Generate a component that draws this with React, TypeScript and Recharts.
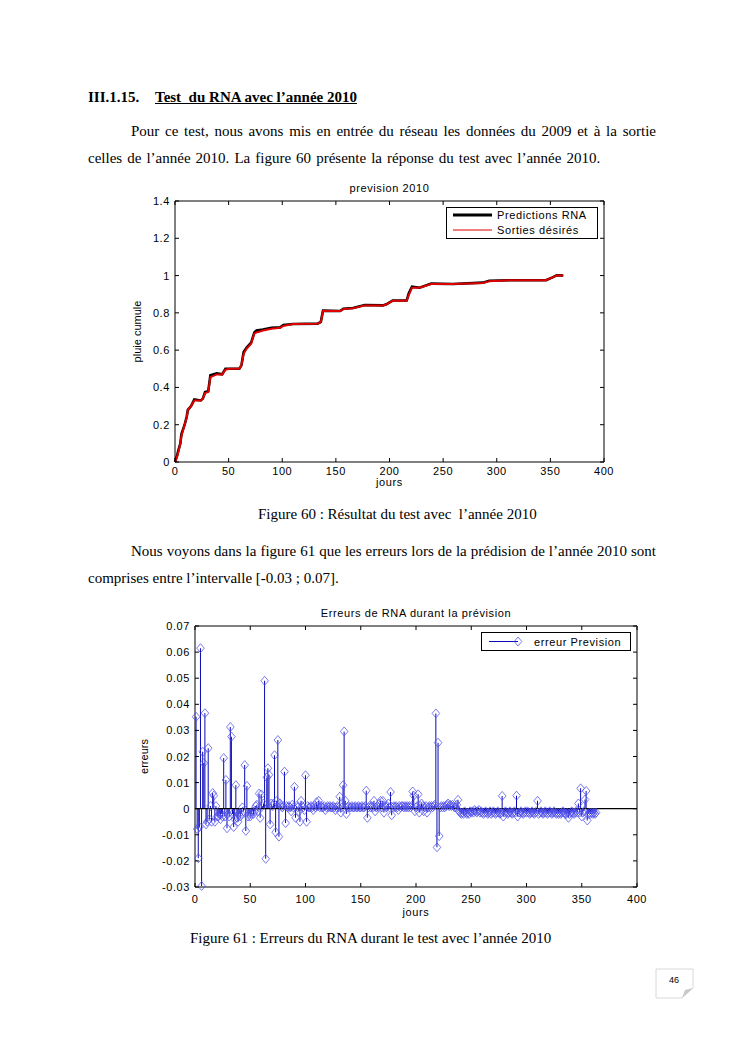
import {
  LineChart,
  ComposedChart,
  Line,
  Bar,
  XAxis,
  YAxis,
  Legend,
  ReferenceLine,
} from "recharts";

// Figure 60: cumulative rainfall (breakpoints)
const rainDays = [
  0, 2, 3, 5, 6, 9, 11, 12, 15, 18, 24, 26, 28, 31, 33, 39, 44, 47, 51, 60,
  62, 64, 67, 71, 74, 76, 82, 90, 98, 101, 110, 133, 136, 138, 154, 157, 166,
  177, 194, 197, 203, 216, 218, 221, 228, 239, 259, 287, 293, 312, 346, 352,
  356, 362,
];
const rainDesired = [
  0, 0.03, 0.05, 0.1, 0.14, 0.2, 0.24, 0.28, 0.3, 0.33, 0.33, 0.34, 0.37,
  0.375, 0.455, 0.47, 0.47, 0.495, 0.5, 0.5, 0.52, 0.58, 0.61, 0.635, 0.69,
  0.695, 0.705, 0.715, 0.72, 0.73, 0.74, 0.742, 0.75, 0.81, 0.81, 0.82, 0.825,
  0.84, 0.84, 0.845, 0.865, 0.865, 0.895, 0.935, 0.935, 0.955, 0.955, 0.96,
  0.97, 0.975, 0.975, 0.99, 1.0, 1.0,
];
const rainPredicted = [
  0, 0.035, 0.06, 0.1, 0.15, 0.2, 0.245, 0.28, 0.3, 0.335, 0.33, 0.34, 0.375,
  0.38, 0.465, 0.475, 0.47, 0.5, 0.5, 0.5, 0.52, 0.59, 0.615, 0.64, 0.695,
  0.705, 0.71, 0.72, 0.722, 0.735, 0.74, 0.742, 0.752, 0.812, 0.81, 0.822,
  0.826, 0.842, 0.84, 0.846, 0.866, 0.866, 0.905, 0.94, 0.935, 0.957, 0.955,
  0.962, 0.972, 0.975, 0.975, 0.99, 1.002, 1.0,
];

// Figure 61: prediction error per day (day 1..363)
const errValues = [
  0.0352, -0.0078, -0.019, -0.007, 0.0615, -0.0296, 0.0218, 0.0175, 0.0366, -0.006,
  -0.005, 0.0232, -0.004, 0.001, -0.005, 0.006, 0.005, -0.005, 0.001, -0.003,
  -0.003, -0.002, -0.004, -0.002, -0.003, 0.0194, -0.003, 0.011, -0.0075, -0.002,
  -0.003, 0.0313, 0.0276, -0.002, -0.007, -0.004, 0.009, -0.0035, -0.005, -0.002,
  -0.003, -0.002, 0.0005, -0.001, 0.0167, -0.0085, 0.0087, -0.003, -0.002, -0.003,
  -0.002, -0.001, -0.002, -0.001, 0.001, 0.0015, -0.001, 0.0058, -0.0035, 0.0055,
  0.001, 0.002, 0.049, -0.0192, 0.012, 0.0155, 0.013, -0.006, 0.002, 0.001,
  0.002, 0.0205, -0.009, 0.003, 0.0263, -0.0107, 0.002, 0.001, 0.0005, 0.001,
  0.0142, -0.0055, 0.001, 0.0005, 0.001, 0.0005, -0.001, 0.0015, 0.0005, 0.0084,
  -0.0035, 0.001, 0.0005, -0.001, -0.005, 0.003, 0.001, 0.0005, -0.0005, 0.0128,
  -0.005, 0.001, 0.0005, 0.0005, 0.001, 0.0005, -0.0005, 0.001, 0.0005, 0.0025,
  0.001, 0.003, 0.0005, 0.001, 0.0005, 0.0005, 0.001, -0.0005, 0.0005, 0.001,
  0.0005, 0.001, 0.0005, 0.0005, 0.001, 0.0005, -0.0005, 0.0005, 0.001, 0.0005,
  0.0046, -0.0015, 0.0005, 0.009, 0.0296, 0.003, -0.002, 0.0005, 0.001, 0.0005,
  0.0005, 0.001, 0.0005, 0.0005, 0.001, 0.0005, 0.0005, 0.001, 0.0005, 0.0005,
  0.001, 0.0005, 0.0005, 0.001, 0.0069, -0.0035, 0.0005, 0.001, 0.0005, 0.001,
  0.0005, 0.003, -0.001, 0.0005, 0.001, 0.0005, 0.002, 0.003, 0.0005, 0.003,
  -0.0015, 0.001, 0.0005, 0.001, 0.002, 0.0005, 0.0064, -0.0025, 0.0005, 0.001,
  0.0005, 0.001, 0.0005, -0.0005, 0.001, 0.0005, 0.001, 0.001, 0.0005, 0.001,
  0.0005, 0.001, 0.0005, 0.001, 0.0005, 0.001, 0.0066, 0.005, -0.001, 0.0005,
  0.001, 0.0055, -0.0015, 0.001, 0.002, 0.001, -0.001, 0.0005, 0.001, -0.0015,
  0.0005, 0.001, 0.0005, 0.001, 0.0005, 0.001, 0.0015, 0.0365, -0.0148, 0.0253,
  -0.0105, 0.0005, 0.001, 0.0005, 0.001, 0.0005, 0.001, 0.0015, 0.002, 0.001,
  0.0015, 0.001, 0.0015, 0.001, 0.0005, 0.0005, 0.0015, 0.0034, -0.001, -0.0015,
  -0.002, -0.0015, -0.002, -0.001, -0.0015, -0.002, -0.0015, -0.002, -0.001, -0.0015,
  -0.001, -0.0015, -0.0005, -0.001, -0.0015, -0.001, -0.0005, -0.0015, -0.001, -0.0015,
  -0.002, -0.0015, -0.001, -0.0015, -0.002, -0.0015, -0.001, -0.002, -0.0015, -0.001,
  -0.0015, -0.002, -0.0015, -0.001, -0.0015, -0.002, -0.0015, 0.0049, -0.003, -0.0015,
  -0.001, -0.0015, -0.002, -0.0015, -0.001, -0.0015, -0.002, -0.0015, -0.001, -0.0015,
  0.005, -0.003, -0.0015, -0.0015, -0.001, -0.0015, -0.002, -0.0015, -0.001, -0.0015,
  -0.001, -0.0015, -0.002, -0.0015, -0.001, -0.0015, -0.002, -0.0015, -0.001, 0.003,
  -0.002, -0.0015, -0.001, -0.0015, -0.002, -0.0015, -0.001, -0.0015, -0.002, -0.0015,
  -0.001, -0.0015, -0.002, -0.0015, -0.001, -0.0015, -0.002, -0.0015, -0.002, -0.0015,
  -0.002, -0.0015, -0.001, -0.0015, -0.002, -0.002, -0.0015, -0.0035, -0.002, -0.0015,
  -0.001, -0.0015, -0.002, -0.0015, -0.001, -0.0015, 0.002, -0.0015, 0.0078, -0.003,
  -0.0015, -0.001, 0.0035, 0.0068, -0.0045, -0.002, -0.0015, -0.002, -0.0015, -0.002,
  -0.0015, -0.002, -0.0015,
];

const dayTicks = [0, 50, 100, 150, 200, 250, 300, 350, 400];
const rainTicks = [0, 0.2, 0.4, 0.6, 0.8, 1, 1.2, 1.4];
const errTicks = [-0.03, -0.02, -0.01, 0, 0.01, 0.02, 0.03, 0.04, 0.05, 0.06, 0.07];

const rainData = rainDays.map((day, i) => ({
  day,
  desired: rainDesired[i],
  predicted: rainPredicted[i],
}));
const errData = errValues.map((err, i) => ({ day: i + 1, err }));

const SANS = '"Liberation Sans", Arial, sans-serif';
const SERIF = '"Liberation Serif", "Times New Roman", serif';
const tickText = { fontSize: 11, fontFamily: SANS, letterSpacing: 0.6, fill: "#000" };

// MATLAB-style inward ticks on all four sides
function bottomTick(labelDy: number) {
  return (p: any) => (
    <g>
      <line x1={p.x} y1={p.y} x2={p.x} y2={p.y - 4} stroke="#000" />
      <text x={p.x} y={p.y + labelDy} textAnchor="middle" {...tickText}>
        {p.payload.value}
      </text>
    </g>
  );
}
function topTick(p: any) {
  return <line x1={p.x} y1={p.y} x2={p.x} y2={p.y + 4} stroke="#000" />;
}
function leftTick(labelDx: number) {
  return (p: any) => (
    <g>
      <line x1={p.x} y1={p.y} x2={p.x + 4} y2={p.y} stroke="#000" />
      <text x={p.x - labelDx} y={p.y + 4} textAnchor="end" {...tickText}>
        {p.payload.value}
      </text>
    </g>
  );
}
function rightTick(p: any) {
  return <line x1={p.x} y1={p.y} x2={p.x - 4} y2={p.y} stroke="#000" />;
}

function Diamond(props: any) {
  const { cx, cy } = props;
  if (cx == null || cy == null) return null;
  return (
    <path
      d={`M${cx} ${cy - 4.5}L${cx + 3.8} ${cy}L${cx} ${cy + 4.5}L${cx - 3.8} ${cy}Z`}
      fill="none"
      stroke="#4f4fee"
      strokeOpacity={0.75}
      strokeWidth={1}
    />
  );
}

function RainLegend() {
  return (
    <div style={{ border: "1px solid #000", background: "#fff", width: 150, height: 30 }}>
      <svg width={150} height={30} style={{ display: "block" }}>
        <line x1={6} y1={7} x2={45} y2={7} stroke="#000" strokeWidth={3} />
        <line x1={6} y1={22} x2={45} y2={22} stroke="#e00000" strokeWidth={1.2} />
        <text x={50} y={11} {...tickText}>Predictions RNA</text>
        <text x={50} y={26} {...tickText}>Sorties désirés</text>
      </svg>
    </div>
  );
}

function ErrLegend() {
  return (
    <div style={{ border: "1px solid #000", background: "#fff", width: 148, height: 17 }}>
      <svg width={148} height={17} style={{ display: "block" }}>
        <line x1={7} y1={8.5} x2={36} y2={8.5} stroke="#0a0ab4" />
        <Diamond cx={36} cy={8.5} />
        <text x={52} y={12.5} {...tickText}>erreur Prevision</text>
      </svg>
    </div>
  );
}

function RainChart() {
  return (
    <LineChart
      width={530}
      height={320}
      data={rainData}
      margin={{ top: 25, right: 25, bottom: 3, left: 35 }}
    >
      <XAxis
        dataKey="day"
        type="number"
        domain={[0, 400]}
        ticks={dayTicks}
        height={30}
        tickSize={0}
        tickMargin={0}
        tickLine={false}
        axisLine={{ stroke: "#000" }}
        tick={bottomTick(13)}
        label={{ value: "jours", position: "insideBottom", offset: 6, style: { ...tickText } }}
      />
      <XAxis
        xAxisId="top"
        dataKey="day"
        orientation="top"
        type="number"
        domain={[0, 400]}
        ticks={dayTicks}
        height={1}
        tickSize={0}
        tickMargin={0}
        tickLine={false}
        axisLine={{ stroke: "#000" }}
        tick={topTick}
        label={{ value: "prevision 2010", position: "top", offset: 8, style: { ...tickText } }}
      />
      <YAxis
        type="number"
        domain={[0, 1.4]}
        ticks={rainTicks}
        width={40}
        tickSize={0}
        tickMargin={0}
        tickLine={false}
        axisLine={{ stroke: "#000" }}
        tick={leftTick(5)}
        label={{
          value: "pluie cumule",
          angle: -90,
          position: "insideLeft",
          offset: 2,
          style: { ...tickText, letterSpacing: 0, textAnchor: "middle" },
        }}
      />
      <YAxis
        yAxisId="right"
        orientation="right"
        type="number"
        domain={[0, 1.4]}
        ticks={rainTicks}
        width={1}
        tickSize={0}
        tickMargin={0}
        tickLine={false}
        axisLine={{ stroke: "#000" }}
        tick={rightTick}
      />
      <Line
        dataKey="predicted"
        name="Predictions RNA"
        type="linear"
        stroke="#000"
        strokeWidth={2.6}
        dot={false}
        isAnimationActive={false}
      />
      <Line
        xAxisId="top"
        yAxisId="right"
        dataKey="desired"
        name="Sorties désirés"
        type="linear"
        stroke="#e00000"
        strokeWidth={2}
        dot={false}
        isAnimationActive={false}
      />
      <Legend
        layout="horizontal"
        verticalAlign="middle"
        align="center"
        wrapperStyle={{ top: 32, left: 346, width: 152 }}
        content={() => <RainLegend />}
      />
    </LineChart>
  );
}

function ErrChart() {
  return (
    <ComposedChart
      width={540}
      height={320}
      data={errData}
      margin={{ top: 25, right: 22, bottom: 3, left: 20 }}
    >
      <XAxis
        dataKey="day"
        type="number"
        domain={[0, 400]}
        ticks={dayTicks}
        height={30}
        tickSize={0}
        tickMargin={0}
        tickLine={false}
        axisLine={{ stroke: "#000" }}
        tick={bottomTick(16)}
        label={{ value: "jours", position: "insideBottom", offset: 1, style: { ...tickText } }}
      />
      <XAxis
        xAxisId="top"
        dataKey="day"
        orientation="top"
        type="number"
        domain={[0, 400]}
        ticks={dayTicks}
        height={1}
        tickSize={0}
        tickMargin={0}
        tickLine={false}
        axisLine={{ stroke: "#000" }}
        tick={topTick}
        label={{
          value: "Erreurs de RNA durant la prévision",
          position: "top",
          offset: 8,
          style: { ...tickText },
        }}
      />
      <YAxis
        type="number"
        domain={[-0.03, 0.07]}
        ticks={errTicks}
        width={55}
        tickSize={0}
        tickMargin={0}
        tickLine={false}
        axisLine={{ stroke: "#000" }}
        tick={leftTick(5)}
        label={{
          value: "erreurs",
          angle: -90,
          position: "insideLeft",
          offset: 4,
          style: { ...tickText, letterSpacing: 0, textAnchor: "middle" },
        }}
      />
      <YAxis
        yAxisId="right"
        orientation="right"
        type="number"
        domain={[-0.03, 0.07]}
        ticks={errTicks}
        width={1}
        tickSize={0}
        tickMargin={0}
        tickLine={false}
        axisLine={{ stroke: "#000" }}
        tick={rightTick}
      />
      <Bar dataKey="err" barSize={1} fill="#0a0ab4" isAnimationActive={false} />
      <ReferenceLine y={0} stroke="#000" strokeWidth={1.2} />
      <Line
        xAxisId="top"
        yAxisId="right"
        dataKey="err"
        name="erreur Prevision"
        stroke="none"
        dot={(p: any) => <Diamond key={p.index} cx={p.cx} cy={p.cy} />}
        activeDot={false}
        isAnimationActive={false}
      />
      <Legend
        layout="horizontal"
        verticalAlign="middle"
        align="center"
        wrapperStyle={{ top: 32, left: 361, width: 150 }}
        content={() => <ErrLegend />}
      />
    </ComposedChart>
  );
}

const textStyle = {
  position: "absolute" as const,
  fontFamily: SERIF,
  fontSize: 15,
  lineHeight: "18px",
  color: "#000",
  whiteSpace: "pre" as const,
};
const justified = {
  ...textStyle,
  width: 525,
  textAlign: "justify" as const,
  textAlignLast: "justify" as const,
  whiteSpace: "normal" as const,
};

export default function App() {
  return (
    <div
      style={{
        position: "absolute",
        left: 0,
        top: 0,
        width: 744,
        height: 1053,
        background: "#fff",
        overflow: "hidden",
      }}
    >
      <div style={{ ...textStyle, left: 88, top: 88, fontWeight: "bold" }}>
        III.1.15.
      </div>
      <div
        style={{ ...textStyle, left: 155, top: 88, fontWeight: "bold", textDecoration: "underline" }}
      >
        Test  du RNA avec l’année 2010
      </div>
      <div style={{ ...justified, left: 131, top: 122 }}>
        Pour ce test, nous avons mis en entrée du réseau les données du 2009 et à la sortie
      </div>
      <div style={{ ...textStyle, left: 88, top: 149, wordSpacing: 1.3 }}>
        celles de l’année 2010. La figure 60 présente la réponse du test avec l’année 2010.
      </div>

      <div style={{ position: "absolute", left: 100, top: 175 }}>
        <RainChart />
      </div>

      <div style={{ ...textStyle, left: 258, top: 505 }}>
        Figure 60 : Résultat du test avec  l’année 2010
      </div>
      <div style={{ ...justified, left: 131, top: 542 }}>
        Nous voyons dans la figure 61 que les erreurs lors de la prédision de l’année 2010 sont
      </div>
      <div style={{ ...textStyle, left: 88, top: 569 }}>
        comprises entre l’intervalle [-0.03 ; 0.07].
      </div>

      <div style={{ position: "absolute", left: 120, top: 600 }}>
        <ErrChart />
      </div>

      <div style={{ ...textStyle, left: 190, top: 929 }}>
        Figure 61 : Erreurs du RNA durant le test avec l’année 2010
      </div>

      <svg width={40} height={31} style={{ position: "absolute", left: 655, top: 968 }}>
        <path d="M1 1H38V20L27 30H1Z" fill="#fff" stroke="#d8d8d8" />
        <path d="M38 20L27 30L30 22Z" fill="#c8c8c8" />
        <text x={19} y={15} textAnchor="middle" fontFamily={SANS} fontSize={9} fill="#000">
          46
        </text>
      </svg>
    </div>
  );
}
